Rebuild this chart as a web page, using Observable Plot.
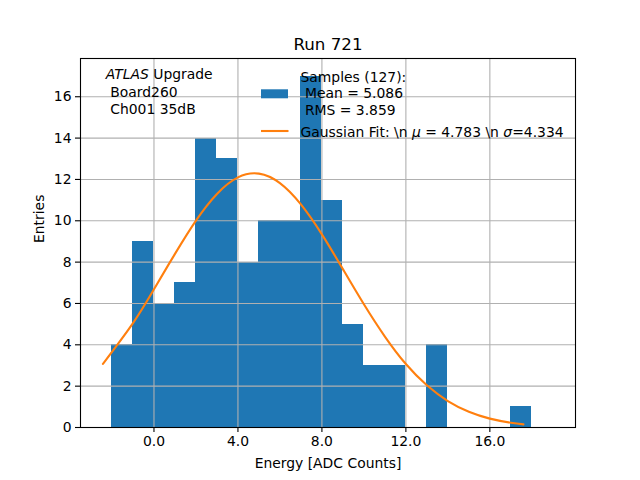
<!DOCTYPE html>
<html>
<head>
<meta charset="utf-8">
<script src="https://cdn.jsdelivr.net/npm/d3@7"></script>
<script src="https://cdn.jsdelivr.net/npm/@observablehq/plot@0.6"></script>
<style>
  html, body { margin: 0; padding: 0; background: #fff; }
  svg { font-family: "DejaVu Sans", sans-serif; white-space: pre; }
</style>
</head>
<body>
<div id="chart"></div>
<script>
// ---- data ----
const binEdges = [-2,-1,0,1,2,3,4,5,6,7,8,9,10,11,12,13,14,15,16,17,18,19];
const binCounts = [4,9,6,7,14,13,8,10,10,17,11,5,3,3,0,4,0,0,0,1,0];
const fitX = [-2.43,-1,0,1,2,3,4,5,6,7,8,9,10,11,12,13,14,15,16,17,17.6];
const fitY = [3.08,5.05,6.69,8.40,10.01,11.30,12.10,12.28,11.82,10.79,9.34,7.66,5.96,4.40,3.07,2.04,1.28,0.76,0.43,0.23,0.15];
const xTicks = [0,4,8,12,16];
const yTicks = [0,2,4,6,8,10,12,14,16];
const titleText = "Run 721";
const xLabel = "Energy [ADC Counts]";
const yLabel = "Entries";
const infoLines = ["ATLAS Upgrade", " Board260", " Ch001 35dB"];
const sampleLines = ["Samples (127):", " Mean = 5.086", " RMS = 3.859"];
const fitLabel = "Gaussian Fit: \\n \u03bc = 4.783 \\n \u03c3=4.334";

const bins = binCounts.map((c, i) => ({x1: binEdges[i], x2: binEdges[i + 1], count: c}));
const fit = fitX.map((x, i) => ({x, y: fitY[i]}));

const blue = "#1f77b4", orange = "#ff7f0e", gridColor = "#b0b0b0";
const fs = 13.9;

const plot = Plot.plot({
  width: 640,
  height: 480,
  marginLeft: 80,
  marginRight: 65,
  marginTop: 58,
  marginBottom: 53,
  style: {fontFamily: "DejaVu Sans", fontSize: fs + "px", background: "#fff", color: "#000"},
  x: {domain: [-3.5, 20.08]},
  y: {domain: [0, 17.85]},
  marks: [
    Plot.rectY(bins, {x1: "x1", x2: "x2", y: "count", fill: blue, inset: 0, shapeRendering: "crispEdges"}),
    Plot.gridX(xTicks, {stroke: gridColor, strokeOpacity: 1, strokeWidth: 1.1}),
    Plot.gridY(yTicks, {stroke: gridColor, strokeOpacity: 1, strokeWidth: 1.1}),
    Plot.line(fit, {x: "x", y: "y", stroke: orange, strokeWidth: 2.1, curve: "natural"}),
    Plot.frame({stroke: "#000", strokeWidth: 1.1}),
    Plot.axisX(xTicks, {tickFormat: d3.format(".1f"), tickSize: 5, tickPadding: 4, fontSize: fs, label: null, strokeWidth: 1.1}),
    Plot.axisY(yTicks, {tickSize: 5, tickPadding: 4, fontSize: fs, label: null, strokeWidth: 1.1}),
    Plot.text([titleText], {frameAnchor: "top", dy: -9, lineAnchor: "bottom", fontSize: 16.7, fill: "#000"}),
    Plot.text([xLabel], {frameAnchor: "bottom", dy: 40, lineAnchor: "bottom", fontSize: fs, fill: "#000"}),
    Plot.text([yLabel], {frameAnchor: "left", dx: -41, rotate: -90, lineAnchor: "middle", fontSize: fs, fill: "#000"}),
    Plot.text([infoLines[0]], {frameAnchor: "top-left", dx: 25.3, dy: 20.7, lineAnchor: "bottom", textAnchor: "start", fontSize: fs, fill: "#000"}),
    Plot.text([infoLines[1]], {frameAnchor: "top-left", dx: 25.3, dy: 38, lineAnchor: "bottom", textAnchor: "start", fontSize: fs, fill: "#000"}),
    Plot.text([infoLines[2]], {frameAnchor: "top-left", dx: 25.3, dy: 55, lineAnchor: "bottom", textAnchor: "start", fontSize: fs, fill: "#000"}),
    Plot.text([sampleLines[0]], {frameAnchor: "top-left", dx: 220, dy: 23, lineAnchor: "bottom", textAnchor: "start", fontSize: fs, fill: "#000"}),
    Plot.text([sampleLines[1]], {frameAnchor: "top-left", dx: 220, dy: 39, lineAnchor: "bottom", textAnchor: "start", fontSize: fs, fill: "#000"}),
    Plot.text([sampleLines[2]], {frameAnchor: "top-left", dx: 220, dy: 56, lineAnchor: "bottom", textAnchor: "start", fontSize: fs, fill: "#000"}),
    Plot.text([fitLabel], {frameAnchor: "top-left", dx: 220, dy: 78, lineAnchor: "bottom", textAnchor: "start", fontSize: fs, fill: "#000"})
  ]
});

document.getElementById("chart").appendChild(plot);

// rich text (italics) post-processing
const svg = d3.select(plot);
svg.selectAll("text").each(function () {
  const t = d3.select(this);
  const s = this.textContent;
  if (s === infoLines[0]) {
    t.text(null);
    t.append("tspan").attr("font-style", "italic").text("ATLAS");
    t.append("tspan").text(" Upgrade");
  } else if (s === fitLabel) {
    t.text(null);
    t.append("tspan").text("Gaussian Fit: \\n ");
    t.append("tspan").attr("font-style", "italic").text("\u03bc");
    t.append("tspan").text(" = 4.783 \\n ");
    t.append("tspan").attr("font-style", "italic").text("\u03c3");
    t.append("tspan").text("=4.334");
  }
});

// legend handles
const lg = svg.append("g");
lg.append("rect").attr("x", 261).attr("y", 89.3).attr("width", 27).attr("height", 9).attr("fill", blue);
lg.append("line").attr("x1", 261).attr("x2", 288.5).attr("y1", 131).attr("y2", 131)
  .attr("stroke", orange).attr("stroke-width", 2.1);
</script>
</body>
</html>
